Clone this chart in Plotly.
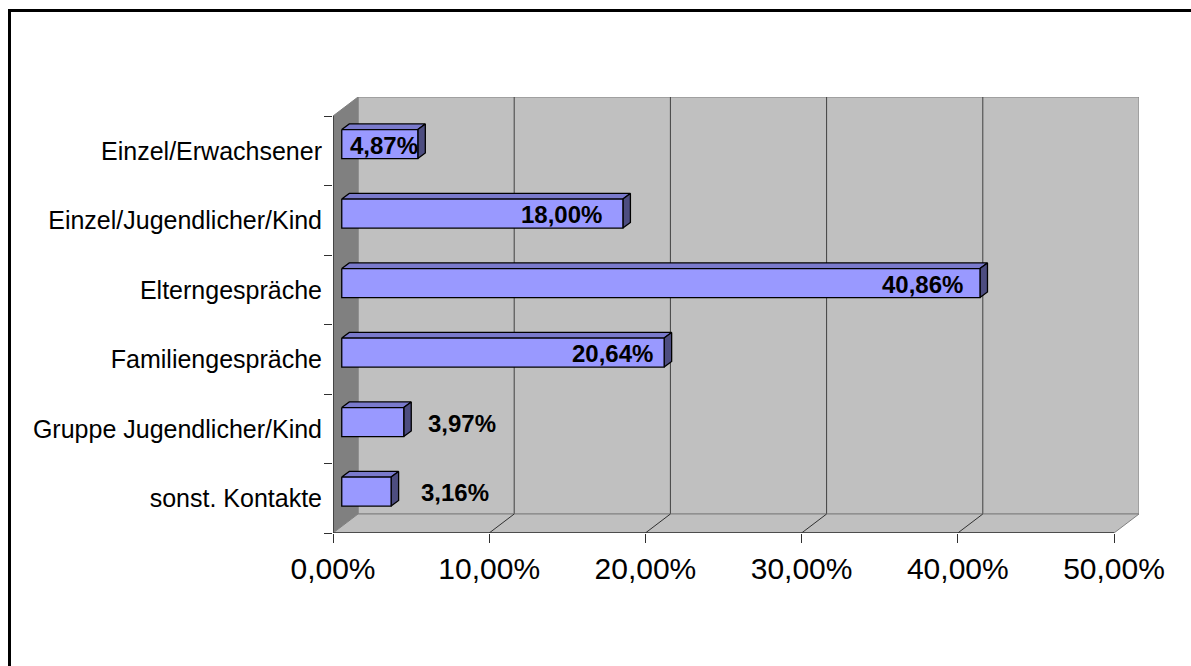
import plotly.graph_objects as go

# Kontaktarten und Anteile (in Prozent)
categories = [
    "Einzel/Erwachsener",
    "Einzel/Jugendlicher/Kind",
    "Elterngespräche",
    "Familiengespräche",
    "Gruppe Jugendlicher/Kind",
    "sonst. Kontakte",
]
shares_pct = [4.87, 18.00, 40.86, 20.64, 3.97, 3.16]
x_ticks_pct = [0, 10, 20, 30, 40, 50]

# Label placement: inside the bar end (right-anchored) or just after it
label_side = ["inside", "inside", "inside", "inside", "outside", "outside"]
label_nudge_px = [2, -19, -15, -9, 22, 28]

# --- canvas / 3D box geometry (pixels) ---
W, H = 1191, 666
front_left, front_right = 333, 1114
front_top, front_bottom = 116, 533
depth_dx_px, depth_dy_px = 25, -19

px_per_unit_x = (front_right - front_left) / 0.5
band_px = (front_bottom - front_top) / len(categories)

plot_left = front_left
plot_right = front_right + depth_dx_px
plot_top = front_top + depth_dy_px
plot_bottom = front_bottom

x_max = 0.5 + depth_dx_px / px_per_unit_x
y_bottom = len(categories) - 0.5
y_top = -0.5 + depth_dy_px / band_px

DX = depth_dx_px / px_per_unit_x      # full depth in x units
DY = depth_dy_px / band_px            # full depth in y units (negative = up)

FONT = "Liberation Sans, Arial, sans-serif"

fig = go.Figure()


def poly(xs, ys, fill, line_color, width=1.0):
    fig.add_trace(go.Scatter(
        x=list(xs) + [xs[0]], y=list(ys) + [ys[0]],
        mode="lines", fill="toself", fillcolor=fill,
        line=dict(color=line_color, width=width),
        hoverinfo="skip", showlegend=False,
    ))


def seg(xs, ys, color, width=1.0):
    fig.add_trace(go.Scatter(
        x=xs, y=ys, mode="lines",
        line=dict(color=color, width=width),
        hoverinfo="skip", showlegend=False,
    ))


y0, y1 = -0.5, len(categories) - 0.5
x_end = x_ticks_pct[-1] / 100

# back wall
poly([DX, x_end + DX, x_end + DX, DX],
     [y0 + DY, y0 + DY, y1 + DY, y1 + DY], "#C0C0C0", "#808080")
# gridlines on back wall
for t in x_ticks_pct[1:-1]:
    xv = t / 100 + DX
    seg([xv, xv], [y0 + DY, y1 + DY], "#404040", 1)
# left side wall
poly([0, DX, DX, 0], [y0, y0 + DY, y1 + DY, y1], "#808080", "#808080")
# floor
poly([0, DX, x_end + DX, x_end], [y1, y1 + DY, y1 + DY, y1], "#C0C0C0", "#808080")
# floor gridlines
for t in x_ticks_pct[1:-1]:
    xv = t / 100
    seg([xv, xv + DX], [y1, y1 + DY], "#303030", 1)
# front edges
seg([0, x_end], [y1, y1], "#303030", 1.5)
seg([0, 0], [y0, y1], "#303030", 1.5)

# bars
f1, f2 = 0.35, 0.65        # bar front / back depth fraction
half_h = 0.2086            # half bar thickness in category units
front_col, top_col, side_col = "#9999FF", "#7A7ACC", "#4D4D80"

for i, pct in enumerate(shares_pct):
    v = pct / 100
    top = i - half_h
    bot = i + half_h
    # top face
    poly([f1 * DX, f2 * DX, v + f2 * DX, v + f1 * DX],
         [top + f1 * DY, top + f2 * DY, top + f2 * DY, top + f1 * DY],
         top_col, "#000000", 1.3)
    # end face
    poly([v + f1 * DX, v + f2 * DX, v + f2 * DX, v + f1 * DX],
         [top + f1 * DY, top + f2 * DY, bot + f2 * DY, bot + f1 * DY],
         side_col, "#000000", 1.3)
    # front face
    poly([f1 * DX, v + f1 * DX, v + f1 * DX, f1 * DX],
         [top + f1 * DY, top + f1 * DY, bot + f1 * DY, bot + f1 * DY],
         front_col, "#000000", 1.3)

    text = f"{pct:.2f}".replace(".", ",") + "%"
    inside = label_side[i] == "inside"
    fig.add_annotation(
        x=v + f1 * DX, y=i + f1 * DY, xref="x", yref="y",
        text=f"<b>{text}</b>", showarrow=False,
        xanchor="right" if inside else "left", yanchor="middle",
        xshift=label_nudge_px[i], yshift=-1,
        font=dict(family=FONT, size=24, color="#000000"),
    )


# outer frame of the chart area (extends past right and bottom edges)
def paper_x(px):
    return (px - plot_left) / (plot_right - plot_left)


def paper_y(py):
    return (plot_bottom - py) / (plot_bottom - plot_top)


fig.add_shape(type="line", xref="paper", yref="paper",
              x0=paper_x(8), x1=paper_x(W + 5), y0=paper_y(10.5), y1=paper_y(10.5),
              line=dict(color="#000000", width=3))
fig.add_shape(type="line", xref="paper", yref="paper",
              x0=paper_x(9.5), x1=paper_x(9.5), y0=paper_y(9), y1=paper_y(H + 5),
              line=dict(color="#000000", width=3))

fig.update_layout(
    width=W, height=H,
    margin=dict(l=plot_left, r=W - plot_right, t=plot_top, b=H - plot_bottom),
    paper_bgcolor="#FFFFFF", plot_bgcolor="rgba(0,0,0,0)",
    separators=",.",
    showlegend=False,
    xaxis=dict(
        range=[0, x_max], showgrid=False, zeroline=False, showline=False,
        tickvals=[t / 100 for t in x_ticks_pct], tickformat=".2%",
        ticks="outside", ticklen=9, tickcolor="#303030", tickwidth=1,
        ticklabelstandoff=0,
        tickfont=dict(family=FONT, size=30, color="#000000"),
        fixedrange=True,
    ),
    yaxis=dict(
        range=[y_bottom, y_top], showgrid=False, zeroline=False, showline=False,
        tickvals=list(range(len(categories))), ticktext=categories,
        ticks="", ticklabelstandoff=10,
        minor=dict(tickvals=[k - 0.5 for k in range(len(categories) + 1)],
                   ticks="outside", ticklen=8, tickcolor="#303030", tickwidth=1),
        tickfont=dict(family=FONT, size=25, color="#000000"),
        fixedrange=True,
    ),
)

fig.write_html("out.html")
